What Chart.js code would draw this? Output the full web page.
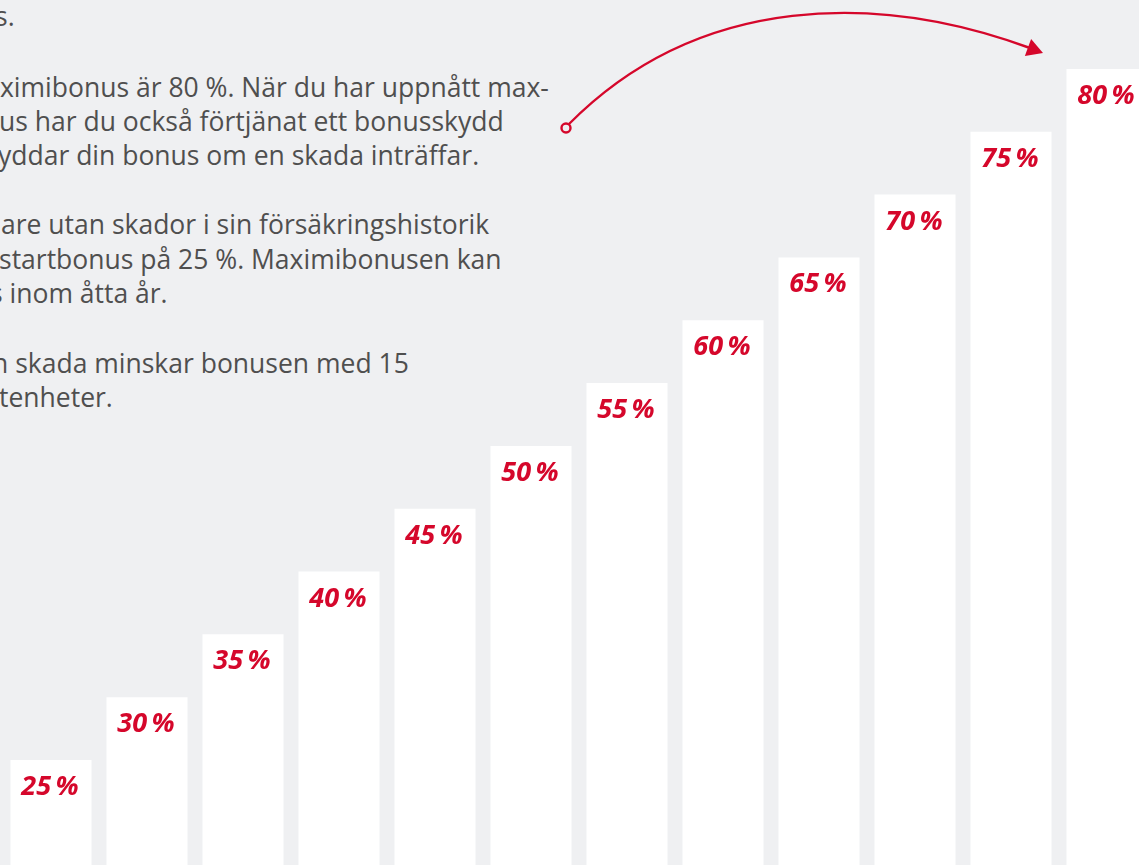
<!DOCTYPE html>
<html lang="sv">
<head>
<meta charset="utf-8">
<script src="https://cdn.jsdelivr.net/npm/chart.js@4/dist/chart.umd.min.js"></script>
<style>
  html, body { margin: 0; padding: 0; background: #eff0f2; overflow: hidden; }
  body { width: 1139px; height: 865px; position: relative; }
  #wrap { position: absolute; left: 0; top: 0; width: 1155px; height: 865px; }
  #copy {
    position: absolute; left: 0; top: 0; width: 600px;
    font-family: 'Open Sans', sans-serif; font-size: 26.5px; line-height: 36px; color: #4f4f4f;
  }
  #copy div { position: absolute; white-space: nowrap; }
</style>
</head>
<body>
<div id="copy"></div>
<div id="wrap"><canvas id="chart"></canvas></div>
<script>
// bonus steps (one per year without claims)
const steps = ['1', '2', '3', '4', '5', '6', '7', '8', '9', '10', '11', '12'];
const bonus = [25, 30, 35, 40, 45, 50, 55, 60, 65, 70, 75, 80];

// visible part of the body text, cut at the left edge of the picture
const textLines = [
  ['s.', 26, -5],
  ['ximibonus är 80 %. När du har uppnått max-', 96.5, 0],
  ['us har du också förtjänat ett bonusskydd', 130.5, -1],
  ['yddar din bonus om en skada inträffar.', 165, -2],
  ['are utan skador i sin försäkringshistorik', 234, 1],
  ['startbonus på 25 %. Maximibonusen kan', 268.5, -1],
  ['s inom åtta år.', 303, -10],
  ['n skada minskar bonusen med 15', 372.5, -8],
  ['tenheter.', 407, -1]
];

const RED = '#d5072b';

const copy = document.getElementById('copy');
textLines.forEach(([t, base, left]) => {
  const d = document.createElement('div');
  d.textContent = t;
  d.style.left = left + 'px';
  d.style.top = (base - 28) + 'px';
  copy.appendChild(d);
});

const barLabels = {
  id: 'barLabels',
  afterDatasetsDraw(chart) {
    const { ctx } = chart;
    const meta = chart.getDatasetMeta(0);
    ctx.save();
    ctx.fillStyle = RED;
    ctx.font = 'italic 700 27px "Open Sans"';
    ctx.textAlign = 'center';
    ctx.textBaseline = 'alphabetic';
    meta.data.forEach((bar, i) => {
      ctx.fillText(bonus[i] + '\u2009%', bar.x - 1, bar.y + 35);
    });
    ctx.restore();
  }
};

const arrow = {
  id: 'arrow',
  afterDraw(chart) {
    const { ctx } = chart;
    ctx.save();
    ctx.strokeStyle = RED;
    ctx.fillStyle = RED;
    ctx.lineWidth = 2.4;
    ctx.beginPath();
    ctx.moveTo(569, 124);
    ctx.bezierCurveTo(700, -8, 880, -7, 1030, 48);
    ctx.stroke();
    // head
    const ang = Math.atan2(17, 46);
    const tx = 1043, ty = 53;
    ctx.beginPath();
    ctx.moveTo(tx, ty);
    ctx.lineTo(tx - 16 * Math.cos(ang) + 9 * Math.sin(ang), ty - 16 * Math.sin(ang) - 9 * Math.cos(ang));
    ctx.lineTo(tx - 16 * Math.cos(ang) - 9 * Math.sin(ang), ty - 16 * Math.sin(ang) + 9 * Math.cos(ang));
    ctx.closePath();
    ctx.fill();
    // start ring
    ctx.beginPath();
    ctx.arc(566, 128, 4.5, 0, Math.PI * 2);
    ctx.fillStyle = '#eff0f2';
    ctx.fill();
    ctx.stroke();
    ctx.restore();
  }
};

new Chart(document.getElementById('chart'), {
  type: 'bar',
  data: {
    labels: steps,
    datasets: [{
      data: bonus,
      backgroundColor: '#ffffff',
      borderWidth: 0,
      barPercentage: 1,
      categoryPercentage: 0.844
    }]
  },
  plugins: [barLabels, arrow],
  options: {
    responsive: true,
    maintainAspectRatio: false,
    animation: false,
    layout: { padding: { left: 3, right: 0, top: 0, bottom: 0 } },
    plugins: { legend: { display: false }, tooltip: { enabled: false } },
    scales: {
      x: { display: false },
      y: { display: false, min: 16.64, max: 85.49 }
    }
  }
});
</script>
</body>
</html>
